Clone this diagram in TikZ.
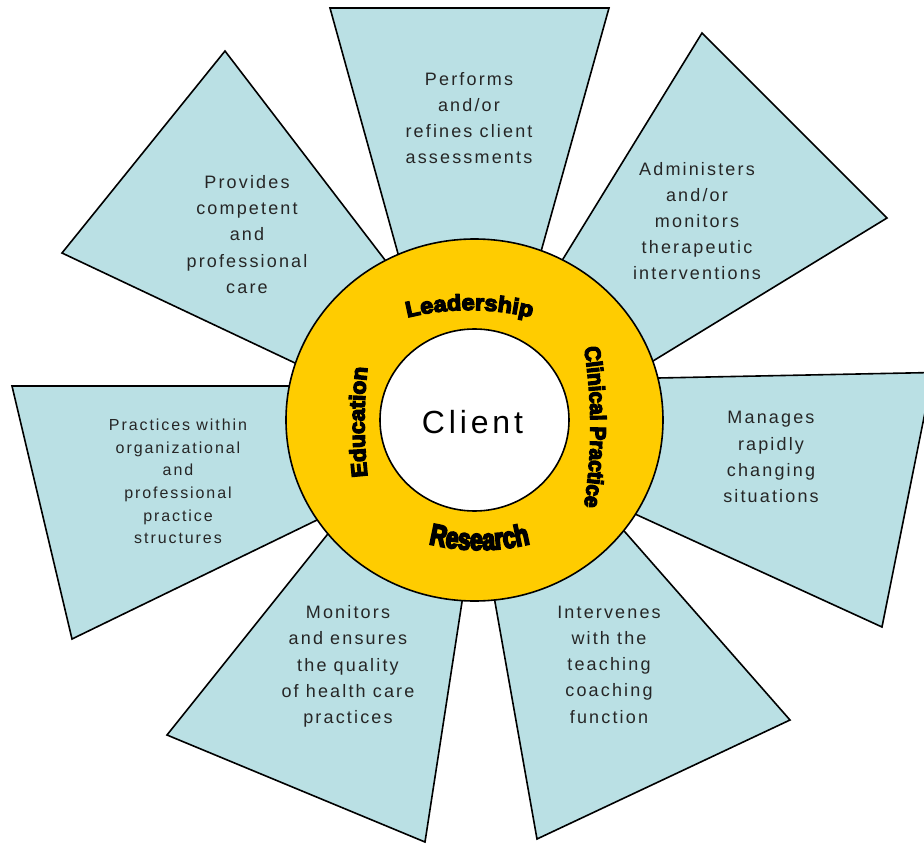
\documentclass[tikz,border=0pt]{standalone}
\usepackage{fontspec}
\setmainfont{Liberation Sans}[LetterSpace=12]
\newfontfamily\leadfont{Liberation Sans}[FakeStretch=1.07,FakeBold=6]
\newfontfamily\clinfont{Liberation Sans}[FakeStretch=0.94,FakeBold=6]
\newfontfamily\edufont{Liberation Sans}[FakeStretch=1.03,FakeBold=6]
\newfontfamily\resfont{Liberation Sans}[FakeStretch=0.76,FakeBold=6]
\usetikzlibrary{calc,decorations.text}
\definecolor{petalblue}{RGB}{186,224,228}
\definecolor{ringyellow}{RGB}{255,204,0}
\tikzset{
  petal/.style={draw,line width=1.6pt,fill=petalblue,line join=miter},
  ring/.style={draw,line width=1.6pt},
  petaltext/.style={align=center,text=black!85,font=\fontsize{18}{26.2}\selectfont},
  smalltext/.style={petaltext,font=\fontsize{16}{22.6}\selectfont}
}
\begin{document}
\begin{tikzpicture}[x=1pt,y=1pt]
  \useasboundingbox (-474.5,-424) rectangle (449.5,420);
  \clip (-474.5,-424) rectangle (449.5,420);

  % petals
  \draw[petal] (-144.5,412) -- (134.5,412) -- ($(134.5,412)!1.05!(67.5,172)$)
    -- ($(-144.5,412)!1.05!(-77.5,170)$) -- cycle;
  \draw[petal] (227.5,387) -- (412.5,202) -- ($(412.5,202)!1.05!(178.5,59)$)
    -- ($(227.5,387)!1.05!(88.5,161)$) -- cycle;
  \draw[petal] (458.5,47.5) -- (407.5,-207) -- ($(407.5,-207)!1.05!(160.5,-94)$)
    -- ($(458.5,47.5)!1.05!(183.5,42)$) -- cycle;
  \draw[petal] (315.5,-300) -- (62.5,-419) -- ($(62.5,-419)!1.05!(20.5,-182)$)
    -- ($(315.5,-300)!1.05!(150.5,-112)$) -- cycle;
  \draw[petal] (-49.5,-422) -- (-307.5,-315) -- ($(-307.5,-315)!1.05!(-147.5,-115)$)
    -- ($(-49.5,-422)!1.05!(-12.5,-182)$) -- cycle;
  \draw[petal] (-402.5,-219) -- (-462.5,34) -- ($(-462.5,34)!1.05!(-186.5,34)$)
    -- ($(-402.5,-219)!1.05!(-159.5,-101)$) -- cycle;
  \draw[petal] (-412.5,167) -- (-249.5,369) -- ($(-249.5,369)!1.05!(-89.5,160)$)
    -- ($(-412.5,167)!1.05!(-179.5,57)$) -- cycle;

  % ring
  \draw[ring,fill=ringyellow] (0,0) ellipse [x radius=188.5,y radius=181];
  \draw[ring,fill=white] (0,0) ellipse [x radius=94.5,y radius=91];
  \node (client) at (-2,-2) {\fontsize{32}{32}\selectfont Client};

  % ring labels (flat arcs)
  \path[decorate,decoration={text along path,text align=center,
      text={|\leadfont\bfseries\fontsize{22}{22}\selectfont|Leadership}}]
    ($(-5,-150)+(105:260)$) arc[start angle=105,end angle=75,radius=260];
  \path[decorate,decoration={text along path,text align=center,
      text={|\clinfont\bfseries\fontsize{22}{22}\selectfont|Clinical Practice}}]
    ($(-384,-7)+(12:500)$) arc[start angle=12,end angle=-12,radius=500];
  \path[decorate,decoration={text along path,text align=center,
      text={|\edufont\bfseries\fontsize{22}{22}\selectfont|Education}}]
    ($(390,-2)+(187:500)$) arc[start angle=187,end angle=173,radius=500];
  \path[decorate,decoration={text along path,text align=center,
      text={|\resfont\bfseries\fontsize{30}{30}\selectfont|Research}}]
    ($(5,81)+(255:211)$) arc[start angle=255,end angle=285,radius=211];

  % petal texts
  \node[petaltext] (assess) at (-5.5,302) {Performs\\and/or\\refines client\\assessments};
  \node[petaltext] (admin) at (222.5,199) {Administers\\and/or\\monitors\\therapeutic\\interventions};
  \node[petaltext] (manage) at (296.5,-37) {Manages\\rapidly\\changing\\situations};
  \node[petaltext] (teach) at (134.5,-244.5) {Intervenes\\with the\\teaching\\coaching\\function};
  \node[petaltext] (quality) at (-126.5,-246.5) {Monitors\\and ensures\\the quality\\of health care\\practices};
  \node[smalltext] (struct) at (-296.5,-61.5) {Practices within\\organizational\\and\\professional\\practice\\structures};
  \node[petaltext] (care) at (-227.5,185.5) {Provides\\competent\\and\\professional\\care};
\end{tikzpicture}
\end{document}
